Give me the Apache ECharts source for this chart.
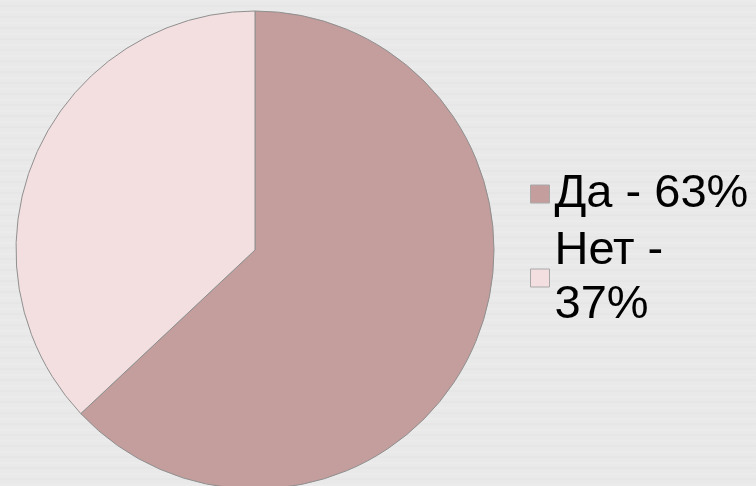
<!DOCTYPE html>
<html>
<head>
<meta charset="utf-8">
<script src="https://cdn.jsdelivr.net/npm/echarts@6/dist/echarts.min.js"></script>
<style>
  html, body { margin: 0; padding: 0; }
  body {
    width: 756px; height: 486px; overflow: hidden;
    background-color: #e9e9e9;
    background-image: repeating-linear-gradient(180deg,
      rgba(255,255,255,0.10) 0px, rgba(255,255,255,0.10) 2px,
      rgba(0,0,0,0) 2px, rgba(0,0,0,0) 5px,
      rgba(0,0,0,0.012) 5px, rgba(0,0,0,0.012) 7px,
      rgba(0,0,0,0) 7px, rgba(0,0,0,0) 11px);
  }
  #chart { width: 756px; height: 486px; }
</style>
</head>
<body>
<div id="chart"></div>
<script>
// Survey answers and their shares (percent)
const categories = ['Да', 'Нет'];
const shares = [63, 37];
const sliceColors = ['#c49d9d', '#f3dfe0'];

// Legend entries longer than this many characters go on two lines
const maxLegendChars = 8;

const chart = echarts.init(document.getElementById('chart'), null, { renderer: 'canvas' });

const data = categories.map((name, i) => ({
  name: name,
  value: shares[i],
  itemStyle: { color: sliceColors[i] }
}));

chart.setOption({
  backgroundColor: 'transparent',
  animation: false,
  legend: {
    orient: 'vertical',
    left: 525,
    top: 162,
    itemWidth: 19,
    itemHeight: 18,
    itemGap: 3,
    icon: 'rect',
    itemStyle: { borderColor: '#a8a8a8', borderWidth: 1 },
    textStyle: {
      fontFamily: 'Liberation Sans, Arial, sans-serif',
      fontSize: 47,
      lineHeight: 54,
      color: '#000'
    },
    formatter: function (name) {
      const i = categories.indexOf(name);
      const head = name + ' -';
      const tail = shares[i] + '%';
      const full = head + ' ' + tail;
      return full.length > maxLegendChars ? head + '\n' + tail : full;
    },
    data: categories
  },
  series: [{
    type: 'pie',
    center: [255, 250],
    radius: [0, 239],
    startAngle: 90,
    clockwise: true,
    label: { show: false },
    labelLine: { show: false },
    emphasis: { disabled: true },
    itemStyle: { borderColor: '#8f8f8f', borderWidth: 1 },
    data: data
  }]
});
</script>
</body>
</html>
